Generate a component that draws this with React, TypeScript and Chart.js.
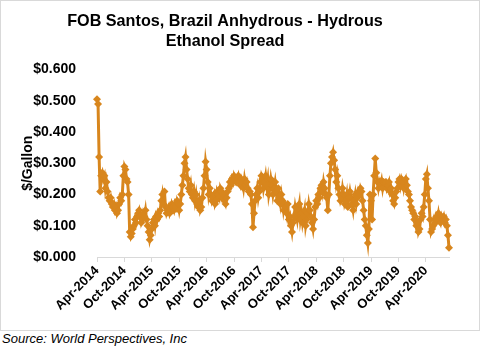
import React, { useEffect, useRef } from 'react';
import { Chart, registerables } from 'chart.js';

Chart.register(...registerables);

const TITLE = ['FOB Santos, Brazil Anhydrous - Hydrous', 'Ethanol Spread'];
const Y_TITLE = '$/Gallon';
const SOURCE = 'Source: World Perspectives, Inc';

// Tick labels shown every 26 weeks on the category axis
const TICK_LABELS = [
  'Apr-2014', 'Oct-2014', 'Apr-2015', 'Oct-2015', 'Apr-2016', 'Oct-2016', 'Apr-2017',
  'Oct-2017', 'Apr-2018', 'Oct-2018', 'Apr-2019', 'Oct-2019', 'Apr-2020',
];
const WEEKS_PER_TICK = 26;

// Weekly spread, $/gallon
const SPREAD = [
  0.505, 0.49, 0.32, 0.21, 0.26, 0.27, 0.25, 0.26, 0.22, 0.24,
  0.21, 0.19, 0.18, 0.19, 0.17, 0.16, 0.17, 0.15, 0.16, 0.14,
  0.15, 0.17, 0.19, 0.18, 0.2, 0.26, 0.29, 0.28, 0.25, 0.24,
  0.2, 0.08, 0.065, 0.075, 0.09, 0.1, 0.12, 0.11, 0.13, 0.14,
  0.15, 0.13, 0.11, 0.12, 0.14, 0.13, 0.15, 0.12, 0.1, 0.08,
  0.055, 0.07, 0.09, 0.11, 0.12, 0.1, 0.13, 0.12, 0.14, 0.13,
  0.15, 0.18, 0.2, 0.17, 0.21, 0.16, 0.14, 0.15, 0.16, 0.14,
  0.15, 0.17, 0.16, 0.15, 0.17, 0.16, 0.18, 0.17, 0.15, 0.17,
  0.2, 0.23, 0.26, 0.3, 0.32, 0.28, 0.25, 0.22, 0.21, 0.23,
  0.2, 0.19, 0.21, 0.18, 0.2, 0.17, 0.16, 0.18, 0.15, 0.16,
  0.19, 0.22, 0.26, 0.305, 0.28, 0.24, 0.2, 0.22, 0.2, 0.18,
  0.19, 0.2, 0.17, 0.18, 0.21, 0.2, 0.19, 0.22, 0.21, 0.19,
  0.2, 0.18, 0.17, 0.19, 0.21, 0.22, 0.24, 0.23, 0.25, 0.24,
  0.26, 0.25, 0.24, 0.25, 0.26, 0.24, 0.23, 0.25, 0.24, 0.22,
  0.25, 0.23, 0.24, 0.22, 0.21, 0.21, 0.2, 0.17, 0.095, 0.14,
  0.18, 0.2, 0.22, 0.19, 0.21, 0.24, 0.26, 0.25, 0.22, 0.24,
  0.26, 0.23, 0.25, 0.2, 0.22, 0.25, 0.23, 0.2, 0.22, 0.24,
  0.21, 0.18, 0.22, 0.19, 0.17, 0.2, 0.18, 0.15, 0.17, 0.16,
  0.14, 0.17, 0.12, 0.13, 0.1, 0.08, 0.11, 0.13, 0.16, 0.14,
  0.12, 0.15, 0.17, 0.12, 0.14, 0.11, 0.13, 0.15, 0.1, 0.12,
  0.14, 0.17, 0.15, 0.13, 0.11, 0.09, 0.12, 0.16, 0.18, 0.17,
  0.2, 0.19, 0.22, 0.23, 0.21, 0.24, 0.22, 0.2, 0.19, 0.15,
  0.2, 0.26, 0.3, 0.32, 0.335, 0.31, 0.28, 0.24, 0.26, 0.22,
  0.2, 0.18, 0.19, 0.22, 0.2, 0.17, 0.18, 0.2, 0.16, 0.19,
  0.21, 0.19, 0.17, 0.15, 0.18, 0.2, 0.17, 0.19, 0.21, 0.2,
  0.22, 0.21, 0.18, 0.15, 0.12, 0.1, 0.07, 0.045, 0.09, 0.2,
  0.18, 0.12, 0.2, 0.26, 0.315, 0.27, 0.24, 0.22, 0.24, 0.23,
  0.245, 0.22, 0.24, 0.235, 0.24, 0.22, 0.23, 0.24, 0.21, 0.22,
  0.2, 0.18, 0.17, 0.19, 0.21, 0.22, 0.24, 0.25, 0.23, 0.25,
  0.24, 0.22, 0.24, 0.25, 0.23, 0.21, 0.2, 0.18, 0.16, 0.15,
  0.14, 0.12, 0.13, 0.1, 0.11, 0.08, 0.09, 0.12, 0.14, 0.13,
  0.16, 0.2, 0.25, 0.265, 0.22, 0.18, 0.12, 0.08, 0.09, 0.1,
  0.12, 0.11, 0.13, 0.12, 0.14, 0.12, 0.11, 0.13, 0.12, 0.13,
  0.11, 0.12, 0.1, 0.07, 0.03,
];

// Weekly categories starting the first week of April 2014
const START = new Date(Date.UTC(2014, 3, 4));
const CATEGORIES = SPREAD.map((_, i) => {
  const d = new Date(START.getTime() + i * 7 * 86400000);
  return d.toISOString().slice(0, 10);
});

const Y_MIN = 0;
const Y_MAX = 0.6;
const Y_STEP = 0.1;

const ORANGE = '#D8861D';
const FONT = 'Arial, "Liberation Sans", sans-serif';

export default function App() {
  const ref = useRef<HTMLCanvasElement | null>(null);

  useEffect(() => {
    if (!ref.current) return;
    const chart = new Chart(ref.current, {
      type: 'line',
      data: {
        labels: CATEGORIES,
        datasets: [
          {
            data: SPREAD,
            borderColor: ORANGE,
            backgroundColor: ORANGE,
            borderWidth: 3,
            pointStyle: 'rectRot',
            pointRadius: 4,
            pointBorderWidth: 0,
            pointBackgroundColor: ORANGE,
            tension: 0,
          },
        ],
      },
      options: {
        responsive: false,
        animation: false,
        layout: { padding: { left: 0, right: 30, top: 0, bottom: 0 } },
        plugins: {
          legend: { display: false },
          tooltip: { enabled: false },
          title: {
            display: true,
            text: TITLE,
            color: '#000',
            font: { family: FONT, size: 16.2, weight: 'bold', lineHeight: 1.25 },
            padding: { top: 10, bottom: 18 },
          },
        },
        scales: {
          x: {
            type: 'category',
            offset: false,
            grid: {
              display: true,
              drawOnChartArea: false,
              drawTicks: true,
              tickLength: 5,
              color: '#d9d9d9',
            },
            border: { display: true, color: '#d9d9d9', width: 1 },
            ticks: {
              autoSkip: false,
              maxRotation: 45,
              minRotation: 45,
              padding: 1,
              color: '#000',
              font: { family: FONT, size: 13, weight: 'bold' },
              callback: (_v: any, i: number) =>
                i % WEEKS_PER_TICK === 0 && TICK_LABELS[i / WEEKS_PER_TICK]
                  ? TICK_LABELS[i / WEEKS_PER_TICK]
                  : null,
            },
            afterFit: (scale: any) => {
              scale.height = 73;
            },
          },
          y: {
            min: Y_MIN,
            max: Y_MAX,
            grid: { display: false },
            border: { display: false },
            ticks: {
              stepSize: Y_STEP,
              padding: 13,
              color: '#000',
              font: { family: FONT, size: 14, weight: 'bold' },
              callback: (v: any) => '$' + Number(v).toFixed(3),
            },
            title: {
              display: true,
              text: Y_TITLE,
              color: '#000',
              font: { family: FONT, size: 14, weight: 'bold' },
              padding: { top: 19, bottom: 0 },
            },
            afterFit: (scale: any) => {
              scale.width = 96;
            },
          },
        },
      },
    });
    return () => chart.destroy();
  }, []);

  return (
    <div style={{ position: 'absolute', left: 0, top: 0, width: 480, height: 351, background: '#fff' }}>
      <div
        style={{
          position: 'absolute',
          left: 0,
          top: 0,
          width: 480,
          height: 331,
          boxSizing: 'border-box',
          border: '1px solid #d9d9d9',
        }}
      >
        <canvas ref={ref} width={478} height={329} style={{ display: 'block' }} />
      </div>
      <div
        style={{
          position: 'absolute',
          left: 2,
          top: 331,
          fontFamily: FONT,
          fontStyle: 'italic',
          fontSize: 13,
          color: '#000',
          whiteSpace: 'nowrap',
        }}
      >
        {SOURCE}
      </div>
    </div>
  );
}
